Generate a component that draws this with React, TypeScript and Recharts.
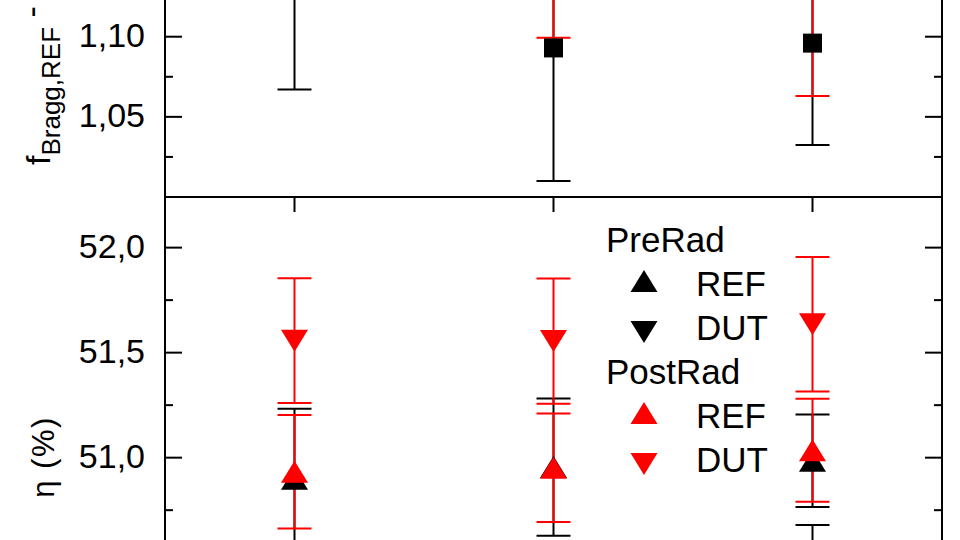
import React from 'react';
import { ScatterChart, Scatter, XAxis, YAxis, ErrorBar, Legend } from 'recharts';

// sample positions on the x axis
const samples = [1, 2, 3];

// top panel: f_Bragg,REF
const braggPre = [1.15, 1.093, 1.096];
const braggPreErr = [0.083, 0.083, 0.0635];
const braggPost = [1.2, 1.17, 1.13];
const braggPostErr = [0.06, 0.0706, 0.067];

// bottom panel: eta (%)
const etaPreRef = [50.9, 50.955, 50.985];
const etaPreRefErr = [0.333, 0.327, 0.22];
const etaPreDut = [50.3, 50.25, 50.4];
const etaPreDutErr = [0.25, 0.3, 0.28];
const etaPostRef = [50.933, 50.952, 51.035];
const etaPostRefErr = [0.27, 0.258, 0.245];
const etaPostDut = [51.557, 51.555, 51.635];
const etaPostDutErr = [0.297, 0.298, 0.32];

const braggTicks = [1.025, 1.05, 1.075, 1.1];
const etaTicks = [50.75, 51.0, 51.25, 51.5, 51.75, 52.0];

const legendGroups = [
  { title: 'PreRad', color: '#000000', items: ['REF', 'DUT'] },
  { title: 'PostRad', color: '#ff0000', items: ['REF', 'DUT'] },
];

const BLACK = '#000000';
const RED = '#ff0000';
const font = "'Liberation Sans', Arial, sans-serif";

const toPoints = (vals: number[], errs: number[]) =>
  samples.map((x, i) => ({ x, y: vals[i], err: errs[i] }));

const square = (color: string) => (p: any) => (
  <rect x={p.cx - 9.5} y={p.cy - 9.5} width={19} height={19} fill={color} />
);

const triUp = (color: string) => (p: any) => (
  <polygon
    points={`${p.cx},${p.cy - 11} ${p.cx + 13.5},${p.cy + 11} ${p.cx - 13.5},${p.cy + 11}`}
    fill={color}
  />
);

const triDown = (color: string) => (p: any) => (
  <polygon
    points={`${p.cx - 13.5},${p.cy - 11} ${p.cx + 13.5},${p.cy - 11} ${p.cx},${p.cy + 11}`}
    fill={color}
  />
);

function YTick(props: any) {
  const { x, y, payload, side, step, digits } = props;
  const v = payload.value;
  const major = Math.abs(v / step - Math.round(v / step)) < 1e-6;
  const len = major ? 17 : 8;
  const dir = side === 'left' ? 1 : -1;
  return (
    <g>
      <line x1={x} x2={x + dir * len} y1={y} y2={y} stroke={BLACK} strokeWidth={2} />
      {major && side === 'left' && (
        <text x={x - 20} y={y} dy={10.5} textAnchor="end" fontFamily={font} fontSize={34} fill={BLACK}>
          {v.toFixed(digits).replace('.', ',')}
        </text>
      )}
    </g>
  );
}

function XTick(props: any) {
  const { x, y } = props;
  return <line x1={x} x2={x} y1={y} y2={y + 15} stroke={BLACK} strokeWidth={2} />;
}

function BraggLabel() {
  return (
    <text x={50} y={165} transform="rotate(-90 50 165)" fontFamily={font} fontSize={34} fill={BLACK}>
      f
      <tspan fontSize={26} dy={10}>Bragg,REF</tspan>
      <tspan dy={-17}> -</tspan>
    </text>
  );
}

function EtaLabel() {
  return (
    <text
      x={54}
      y={270}
      transform="rotate(-90 54 270)"
      textAnchor="middle"
      fontFamily={font}
      fontSize={31}
      letterSpacing={1.5}
      fill={BLACK}
    >
      η (%)
    </text>
  );
}

function LegendBox() {
  return (
    <svg width={200} height={270} style={{ display: 'block' }}>
      {legendGroups.map((g, gi) => {
        const top = 10 + gi * 132;
        return (
          <g key={g.title} fontFamily={font} fontSize={35} fill={BLACK}>
            <text x={6} y={top + 27}>{g.title}</text>
            {g.items.map((name, ii) => {
              const cy = top + 56 + ii * 51;
              const pts =
                ii === 0
                  ? `44,${cy - 11} 57.5,${cy + 11} 30.5,${cy + 11}`
                  : `30.5,${cy - 11} 57.5,${cy - 11} 44,${cy + 11}`;
              return (
                <g key={name}>
                  <polygon points={pts} fill={g.color} />
                  <text x={96} y={top + 71 + ii * 44}>{name}</text>
                </g>
              );
            })}
          </g>
        );
      })}
    </svg>
  );
}

const axisLine = { stroke: BLACK, strokeWidth: 2 };

export default function App() {
  return (
    <div style={{ position: 'absolute', left: 0, top: 0, width: 960, height: 540, overflow: 'hidden', background: '#fff' }}>
      <div style={{ position: 'absolute', left: 0, top: 0 }}>
        <ScatterChart width={960} height={197} margin={{ top: 0, right: 0, bottom: 0, left: 0 }}>
          <XAxis type="number" dataKey="x" domain={[0.5, 3.5]} hide />
          <YAxis
            yAxisId="l"
            type="number"
            dataKey="y"
            width={165}
            domain={[1.0, 1.1229]}
            allowDataOverflow
            ticks={braggTicks}
            interval={0}
            tickSize={0}
            tickMargin={0}
            tickLine={false}
            axisLine={axisLine}
            tick={<YTick side="left" step={0.05} digits={2} />}
            label={{ content: () => <BraggLabel /> }}
          />
          <YAxis
            yAxisId="r"
            orientation="right"
            type="number"
            width={18}
            domain={[1.0, 1.1229]}
            allowDataOverflow
            ticks={braggTicks}
            interval={0}
            tickSize={0}
            tickMargin={0}
            tickLine={false}
            axisLine={axisLine}
            tick={<YTick side="right" step={0.05} digits={2} />}
          />
          <Scatter yAxisId="l" name="PreRad" data={toPoints(braggPre, braggPreErr)} fill={BLACK} shape={square(BLACK)} isAnimationActive={false}>
            <ErrorBar dataKey="err" direction="y" width={17} stroke={BLACK} strokeWidth={2} isAnimationActive={false} />
          </Scatter>
          <Scatter yAxisId="l" name="PostRad" data={toPoints(braggPost, braggPostErr)} fill={RED} shape={square(RED)} isAnimationActive={false}>
            <ErrorBar dataKey="err" direction="y" width={17} stroke={RED} strokeWidth={2} isAnimationActive={false} />
          </Scatter>
        </ScatterChart>
      </div>
      <div style={{ position: 'absolute', left: 0, top: 187 }}>
        <ScatterChart width={960} height={353} margin={{ top: 0, right: 0, bottom: 0, left: 0 }}>
          <XAxis
            type="number"
            dataKey="x"
            orientation="top"
            height={10}
            domain={[0.5, 3.5]}
            ticks={samples}
            interval={0}
            tickSize={0}
            tickMargin={0}
            tickLine={false}
            axisLine={axisLine}
            tick={<XTick />}
          />
          <YAxis
            yAxisId="l"
            type="number"
            dataKey="y"
            width={165}
            domain={[50.608, 52.241]}
            allowDataOverflow
            ticks={etaTicks}
            interval={0}
            tickSize={0}
            tickMargin={0}
            tickLine={false}
            axisLine={axisLine}
            tick={<YTick side="left" step={0.5} digits={1} />}
            label={{ content: () => <EtaLabel /> }}
          />
          <YAxis
            yAxisId="r"
            orientation="right"
            type="number"
            width={18}
            domain={[50.608, 52.241]}
            allowDataOverflow
            ticks={etaTicks}
            interval={0}
            tickSize={0}
            tickMargin={0}
            tickLine={false}
            axisLine={axisLine}
            tick={<YTick side="right" step={0.5} digits={1} />}
          />
          <Legend
            layout="vertical"
            align="center"
            verticalAlign="middle"
            content={() => <LegendBox />}
            wrapperStyle={{ left: 600, top: 28, width: 200, height: 270 }}
          />
          <Scatter yAxisId="l" name="PreRad REF" data={toPoints(etaPreRef, etaPreRefErr)} fill={BLACK} shape={triUp(BLACK)} isAnimationActive={false}>
            <ErrorBar dataKey="err" direction="y" width={17} stroke={BLACK} strokeWidth={2} isAnimationActive={false} />
          </Scatter>
          <Scatter yAxisId="l" name="PreRad DUT" data={toPoints(etaPreDut, etaPreDutErr)} fill={BLACK} shape={triDown(BLACK)} isAnimationActive={false}>
            <ErrorBar dataKey="err" direction="y" width={17} stroke={BLACK} strokeWidth={2} isAnimationActive={false} />
          </Scatter>
          <Scatter yAxisId="l" name="PostRad REF" data={toPoints(etaPostRef, etaPostRefErr)} fill={RED} shape={triUp(RED)} isAnimationActive={false}>
            <ErrorBar dataKey="err" direction="y" width={17} stroke={RED} strokeWidth={2} isAnimationActive={false} />
          </Scatter>
          <Scatter yAxisId="l" name="PostRad DUT" data={toPoints(etaPostDut, etaPostDutErr)} fill={RED} shape={triDown(RED)} isAnimationActive={false}>
            <ErrorBar dataKey="err" direction="y" width={17} stroke={RED} strokeWidth={2} isAnimationActive={false} />
          </Scatter>
        </ScatterChart>
      </div>
    </div>
  );
}
